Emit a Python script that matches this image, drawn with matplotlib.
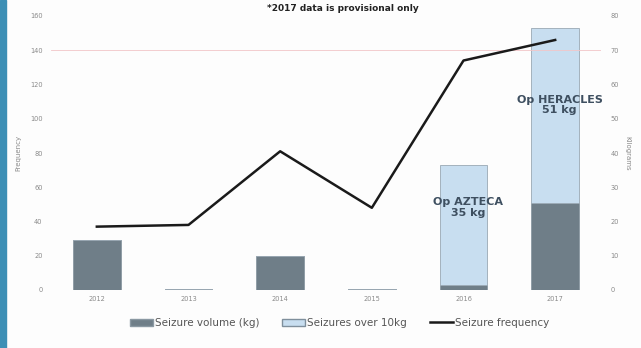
import matplotlib.pyplot as plt
import matplotlib.patches as mpatches
from matplotlib.lines import Line2D

years = ['2012', '2013', '2014', '2015', '2016', '2017']
volume_kg = [14.5, 0.3, 10.0, 0.4, 1.5, 25.5]
over_10kg = [0, 0, 0, 0, 35, 51]
frequency = [37, 38, 81, 48, 134, 146]
left_ticks = [0, 20, 40, 60, 80, 100, 120, 140, 160]
right_ticks = [0, 10, 20, 30, 40, 50, 60, 70, 80]

dark = '#6f7e88'
light = '#c8def0'
tick_col = '#8a8a8a'

fig = plt.figure(figsize=(6.41, 3.48), dpi=100)
fig.patch.set_facecolor('#fdfdfd')
ax = fig.add_axes([51 / 641, 58 / 348, 550 / 641, 274 / 348])
ax2 = ax.twinx()

x = range(len(years))
ax2.bar(x, volume_kg, width=0.52, color=dark, edgecolor='#8a98a2', linewidth=0.6)
ax2.bar(x, over_10kg, width=0.52, bottom=volume_kg, color=light,
        edgecolor='#9aa8b4', linewidth=0.6)
ax.plot(x, frequency, color='#1a1a1a', lw=1.8)

# line sits above the bars
ax.set_zorder(ax2.get_zorder() + 1)
ax.patch.set_visible(False)

ax.set_xlim(-0.5, 5.5)
ax.set_ylim(0, 160)
ax2.set_ylim(0, 80)
ax.set_yticks(left_ticks)
ax2.set_yticks(right_ticks)
ax.set_xticks(list(x))
ax.set_xticklabels(years)
for a in (ax, ax2):
    for s in a.spines.values():
        s.set_visible(False)
    a.tick_params(length=0, labelsize=4.8, colors=tick_col, pad=4)
ax.tick_params(axis='y', pad=6)
ax2.tick_params(axis='y', pad=7)

ax.set_ylabel('Frequency', fontsize=5, color=tick_col, labelpad=6)
ax2.set_ylabel('Kilograms', fontsize=5, color=tick_col, rotation=270, labelpad=8)

# faint pink line from the scan
ax.axhline(140, color='#f2c6c8', lw=0.6, zorder=0)

ax2.text(4.05, 24, 'Op AZTECA\n35 kg', ha='center', va='center', fontsize=8,
         fontweight='bold', color='#3e4f60', linespacing=1.1)
ax2.text(5.05, 54, 'Op HERACLES\n51 kg', ha='center', va='center', fontsize=8,
         fontweight='bold', color='#3e4f60', linespacing=1.1)

fig.text(0.535, 0.975, '*2017 data is provisional only', ha='center', va='center',
         fontsize=6.5, fontweight='bold', color='#222222')

# blue edge of the slide
fig.patches.append(mpatches.Rectangle((0, 0), 6 / 641, 1, transform=fig.transFigure,
                                      color='#3d8fb5', zorder=5))

handles = [mpatches.Patch(facecolor=dark, edgecolor='#8a98a2'),
           mpatches.Patch(facecolor=light, edgecolor='#7f8f9c'),
           Line2D([], [], color='#1a1a1a', lw=1.8)]
labels = ['Seizure volume (kg)', 'Seizures over 10kg', 'Seizure frequency']
fig.legend(handles, labels, loc='center', bbox_to_anchor=(0.53, 0.072), ncol=3,
           frameon=False, fontsize=7.5, labelcolor='#555555', handlelength=2.2,
           handletextpad=0.2, columnspacing=2.2)

fig.savefig('out.png', dpi=100, facecolor=fig.get_facecolor())
